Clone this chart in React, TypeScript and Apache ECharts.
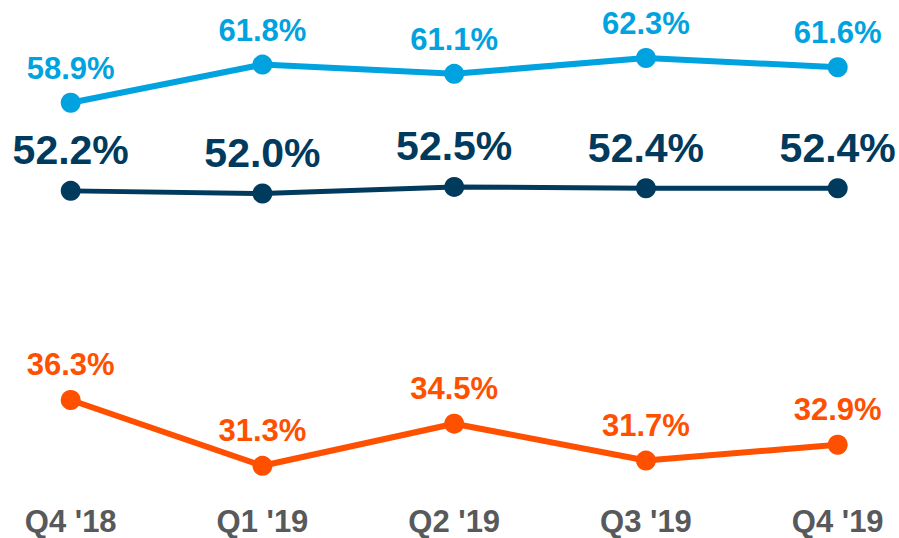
import React, { useEffect, useRef } from "react";
import * as echarts from "echarts";

const categories = ["Q4 '18", "Q1 '19", "Q2 '19", "Q3 '19", "Q4 '19"];
const blueValues = [58.9, 61.8, 61.1, 62.3, 61.6];
const navyValues = [52.2, 52.0, 52.5, 52.4, 52.4];
const orangeValues = [36.3, 31.3, 34.5, 31.7, 32.9];

const FONT = "'Liberation Sans', Arial, sans-serif";

function lineSeries(name: string, data: number[], color: string, width: number, fontSize: number, distance: number) {
  return {
    name,
    type: "line",
    data,
    symbol: "circle",
    symbolSize: 20,
    lineStyle: { color, width },
    itemStyle: { color },
    label: {
      show: true,
      position: "top",
      distance,
      formatter: (p: any) => p.value.toFixed(1) + "%",
      color,
      fontFamily: FONT,
      fontWeight: "bold",
      fontSize,
    },
  };
}

export default function App() {
  const ref = useRef<HTMLDivElement>(null);
  useEffect(() => {
    if (!ref.current) return;
    const chart = echarts.init(ref.current, null, { renderer: "svg" });
    chart.setOption({
      animation: false,
      grid: { left: 70.7, right: 61.3, top: 22.5, bottom: 55.1 },
      xAxis: {
        type: "category",
        data: categories,
        boundaryGap: false,
        axisLine: { show: false },
        axisTick: { show: false },
        axisLabel: {
          margin: 23,
          color: "#58595B",
          fontFamily: FONT,
          fontWeight: "bold",
          fontSize: 31,
        },
      },
      yAxis: {
        type: "value",
        min: 30,
        max: 65,
        show: false,
        splitLine: { show: false },
      },
      series: [
        lineSeries("blue", blueValues, "#00A3E0", 6, 31, 9),
        lineSeries("navy", navyValues, "#003A5D", 5, 41, 10),
        lineSeries("orange", orangeValues, "#FF5000", 6, 31, 10),
      ],
    });
    return () => chart.dispose();
  }, []);
  return <div ref={ref} style={{ width: 899, height: 538, position: "absolute", left: 0, top: 0 }} />;
}
